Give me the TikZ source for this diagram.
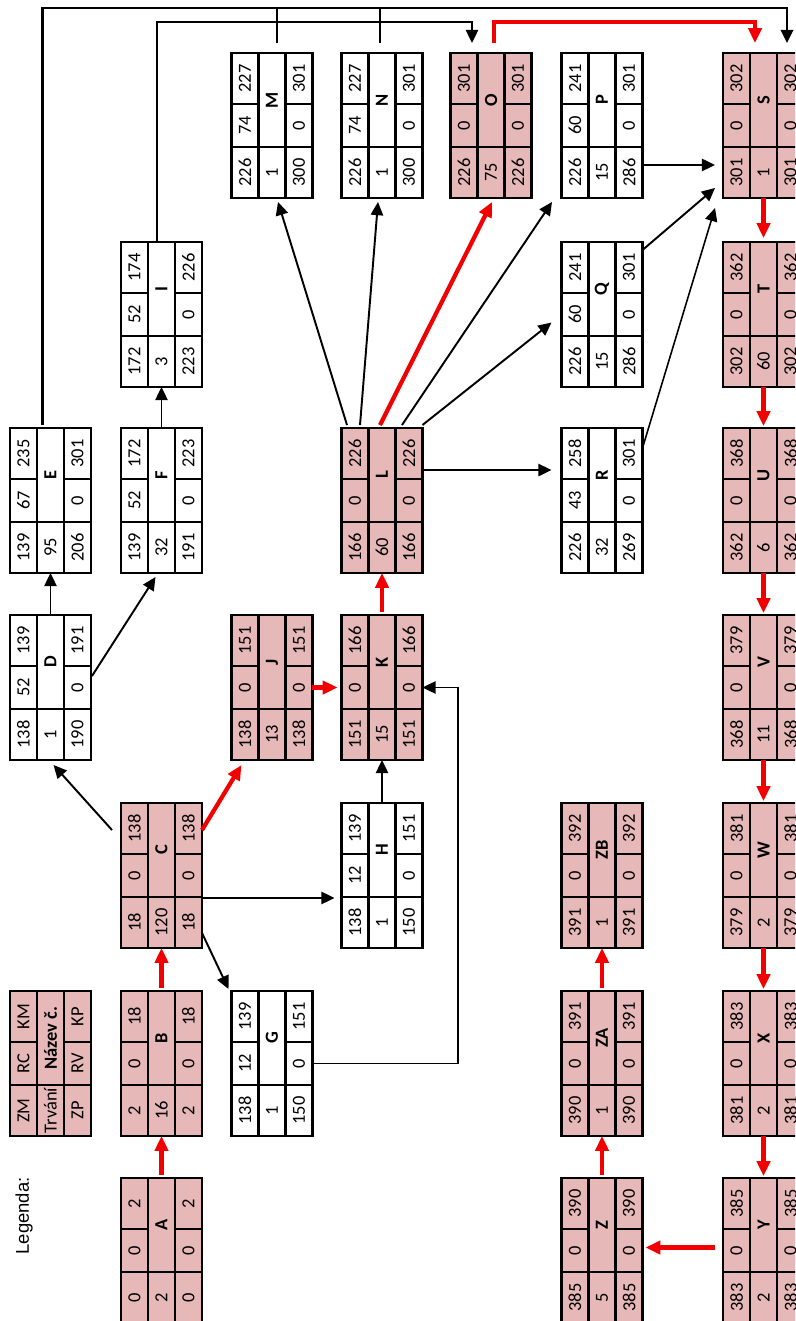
\documentclass[tikz,border=0pt]{standalone}
\usepackage{fontspec}
\setmainfont{Carlito}
\newfontfamily\legendfont{Liberation Sans}
\usetikzlibrary{arrows.meta,calc}
\definecolor{critpink}{HTML}{E6B8B7}
\definecolor{critred}{HTML}{F20000}

% one activity: node name, then ZM, RC, KM, duration, label, ZP, RV, KP
\newcommand{\actcells}[9]{%
  \begin{scope}[shift={(#1.north west)}]
    \draw[gridline] (27,0) -- (27,145) (54,0) -- (54,145)
      (0,51) -- (27,51) (54,51) -- (81,51) (0,94) -- (81,94);
    \node[celltext] (#1-zm) at (13.5,119.5) {#2};
    \node[celltext] (#1-rc) at (13.5,72.5) {#3};
    \node[celltext] (#1-km) at (13.5,25.5) {#4};
    \node[celltext] (#1-tr) at (40.5,119.5) {#5};
    \node[celltext, font=\fontsize{10.5}{12}\selectfont\bfseries] (#1-nm) at (40.5,47) {#6};
    \node[celltext] (#1-zp) at (67.5,119.5) {#7};
    \node[celltext] (#1-rv) at (67.5,72.5) {#8};
    \node[celltext] (#1-kp) at (67.5,25.5) {#9};
  \end{scope}}

\begin{document}
\begin{tikzpicture}[
  x=0.02cm, y=-0.02cm,
  font=\fontsize{10.5}{12}\selectfont,
  actbox/.style = {draw, line width=1.4pt, minimum width=1.62cm, minimum height=2.9cm,
                   inner sep=0pt, outer sep=0pt},
  actwhite/.style = {actbox, fill=white},
  actcrit/.style = {actbox, fill=critpink},
  gridline/.style = {line width=1.4pt},
  celltext/.style = {rotate=90, inner sep=0pt},
  flow/.style = {-{Triangle[length=7.5pt, width=7pt]}, line width=1.1pt},
  critflow/.style = {-{Triangle[length=8.5pt, width=7.5pt]}, line width=2.4pt, draw=critred},
  joinline/.style = {line width=1.1pt},
]
\useasboundingbox (0,0) rectangle (795,1321);
\clip (0,0) rectangle (795,1321);

% ---------- legend ----------
\node[rotate=90, inner sep=0pt, font=\legendfont\fontsize{10.5}{12}\selectfont] (legtitle) at (24,1216) {Legenda:};
\node[actcrit] (leg) at (50.5,1063.5) {};
\actcells{leg}{ZM}{RC}{KM}{Trvání}{Název č.}{ZP}{RV}{KP}

% ---------- activities, row by row ----------
\node[actwhite] (M) at (272,125.5) {};
\actcells{M}{226}{74}{227}{1}{M}{300}{0}{301}
\node[actwhite] (N) at (382,125.5) {};
\actcells{N}{226}{74}{227}{1}{N}{300}{0}{301}
\node[actcrit] (O) at (491,125.5) {};
\actcells{O}{226}{0}{301}{75}{O}{226}{0}{301}
\node[actwhite] (P) at (602,125.5) {};
\actcells{P}{226}{60}{241}{15}{P}{286}{0}{301}
\node[actcrit] (S) at (763.5,125.5) {};
\actcells{S}{301}{0}{302}{1}{S}{301}{0}{302}

\node[actwhite] (I) at (161.5,314.5) {};
\actcells{I}{172}{52}{174}{3}{I}{223}{0}{226}
\node[actwhite] (Q) at (602,314.5) {};
\actcells{Q}{226}{60}{241}{15}{Q}{286}{0}{301}
\node[actcrit] (T) at (763.5,314.5) {};
\actcells{T}{302}{0}{362}{60}{T}{302}{0}{362}

\node[actwhite] (E) at (50.5,500.5) {};
\actcells{E}{139}{67}{235}{95}{E}{206}{0}{301}
\node[actwhite] (F) at (161.5,500.5) {};
\actcells{F}{139}{52}{172}{32}{F}{191}{0}{223}
\node[actcrit] (L) at (382,500.5) {};
\actcells{L}{166}{0}{226}{60}{L}{166}{0}{226}
\node[actwhite] (R) at (602,500.5) {};
\actcells{R}{226}{43}{258}{32}{R}{269}{0}{301}
\node[actcrit] (U) at (763.5,500.5) {};
\actcells{U}{362}{0}{368}{6}{U}{362}{0}{368}

\node[actwhite] (D) at (50.5,687.5) {};
\actcells{D}{138}{52}{139}{1}{D}{190}{0}{191}
\node[actcrit] (J) at (272,687.5) {};
\actcells{J}{138}{0}{151}{13}{J}{138}{0}{151}
\node[actcrit] (K) at (382,687.5) {};
\actcells{K}{151}{0}{166}{15}{K}{151}{0}{166}
\node[actcrit] (V) at (763.5,687.5) {};
\actcells{V}{368}{0}{379}{11}{V}{368}{0}{379}

\node[actcrit] (C) at (161.5,875.5) {};
\actcells{C}{18}{0}{138}{120}{C}{18}{0}{138}
\node[actwhite] (H) at (382,875.5) {};
\actcells{H}{138}{12}{139}{1}{H}{150}{0}{151}
\node[actcrit] (ZB) at (602,875.5) {};
\actcells{ZB}{391}{0}{392}{1}{ZB}{391}{0}{392}
\node[actcrit] (W) at (763.5,875.5) {};
\actcells{W}{379}{0}{381}{2}{W}{379}{0}{381}

\node[actcrit] (B) at (161.5,1063.5) {};
\actcells{B}{2}{0}{18}{16}{B}{2}{0}{18}
\node[actwhite] (G) at (272,1063.5) {};
\actcells{G}{138}{12}{139}{1}{G}{150}{0}{151}
\node[actcrit] (ZA) at (602,1063.5) {};
\actcells{ZA}{390}{0}{391}{1}{ZA}{390}{0}{391}
\node[actcrit] (X) at (763.5,1063.5) {};
\actcells{X}{381}{0}{383}{2}{X}{381}{0}{383}

\node[actcrit] (A) at (161.5,1250.5) {};
\actcells{A}{0}{0}{2}{2}{A}{0}{0}{2}
\node[actcrit] (Z) at (602,1250.5) {};
\actcells{Z}{385}{0}{390}{5}{Z}{385}{0}{390}
\node[actcrit] (Y) at (763.5,1250.5) {};
\actcells{Y}{383}{0}{385}{2}{Y}{383}{0}{385}

% ---------- critical path (red) ----------
\draw[critflow, shorten <=0.06cm] (A.north) -- (B.south);
\draw[critflow, shorten <=0.06cm] (B.north) -- (C.south);
\draw[critflow] ($(C.north east)+(0,27)$) -- ($(J.south west)+(10,5)$);
\draw[critflow, shorten >=0.08cm] (J.east) -- (K.west);
\draw[critflow, shorten <=0.06cm] (K.north) -- (L.south);
\draw[critflow] ($(L.north)+(-2,-3)$) -- ($(O.south)+(1,4)$);
\draw[critflow] ($(O.north)+(3,-10)$) -- ($(O.north)+(3,-31)$) -| ($(S.north)+(-8.5,-10)$);
\draw[critflow, shorten >=0.08cm] (S.south) -- (T.north);
\draw[critflow, shorten >=0.04cm] (T.south) -- (U.north);
\draw[critflow, shorten >=0.04cm] (U.south) -- (V.north);
\draw[critflow, shorten >=0.04cm] (V.south) -- (W.north);
\draw[critflow, shorten >=0.04cm] (W.south) -- (X.north);
\draw[critflow, shorten >=0.04cm] (X.south) -- (Y.north);
\draw[critflow] ($(Y.west)+(-8,-3)$) -- ($(Z.east)+(3,-3)$);
\draw[critflow, shorten <=0.06cm] (Z.north) -- (ZA.south);
\draw[critflow, shorten <=0.06cm] (ZA.north) -- (ZB.south);

% ---------- other links ----------
\draw[flow] ($(C.north west)+(-9,27)$) -- ($(D.south)+(3,5)$);
\draw[flow] ($(C.south east)+(0,-50)$) -- ($(H.south west)+(-7,-50)$);
\draw[flow] ($(C.south east)+(0,-15)$) -- ($(G.north west)+(-3,-2)$);
\draw[flow] (G.east) -- ++(145.5,0) |- (K.east);
\draw[flow] (H.north) -- (K.south);
\draw[flow] (D.north) -- (E.south);
\draw[flow] ($(D.north east)+(1,61)$) -- ($(F.south)+(-6,4)$);
\draw[flow] (F.north) -- (I.south);

\draw[flow] ($(L.north west)+(5.5,-3)$) -- ($(M.south)+(6,4)$);
\draw[flow] ($(L.north west)+(18.5,-3)$) -- ($(N.south)+(-4,4)$);
\draw[flow] ($(L.north)+(20,-3)$) -- ($(P.south west)+(-9.5,4)$);
\draw[flow] ($(L.north east)+(0,-3)$) -- ($(Q.west)+(-10,8)$);
\draw[flow] ($(L.north east)+(0,42)$) -- ($(R.north west)+(-10,42)$);

\draw[flow] ($(P.south east)+(0,-33)$) -- ($(S.south west)+(-8,-33)$);
\draw[flow] ($(Q.north east)+(0,8)$) -- ($(S.south west)+(-8,-10)$);
\draw[flow, line width=0.9pt] ($(R.north east)+(0,20)$) -- ($(S.south west)+(-8,10)$);

% lines over the top
\draw[flow, line width=1.6pt] ($(E.north)+(-8,-3)$) -- ($(E.north)+(-8,-420)$) -| ($(S.north)+(23.5,-10)$);
\draw[joinline] ($(M.north)+(5,-10)$) -- ++(0,-35);
\draw[joinline] ($(N.north)+(-2,-10)$) -- ++(0,-35);
\draw[flow] ($(I.north)+(-4.5,0)$) -- ($(I.north)+(-4.5,-220)$) -| ($(O.north)+(-19,-10)$);

\end{tikzpicture}
\end{document}
